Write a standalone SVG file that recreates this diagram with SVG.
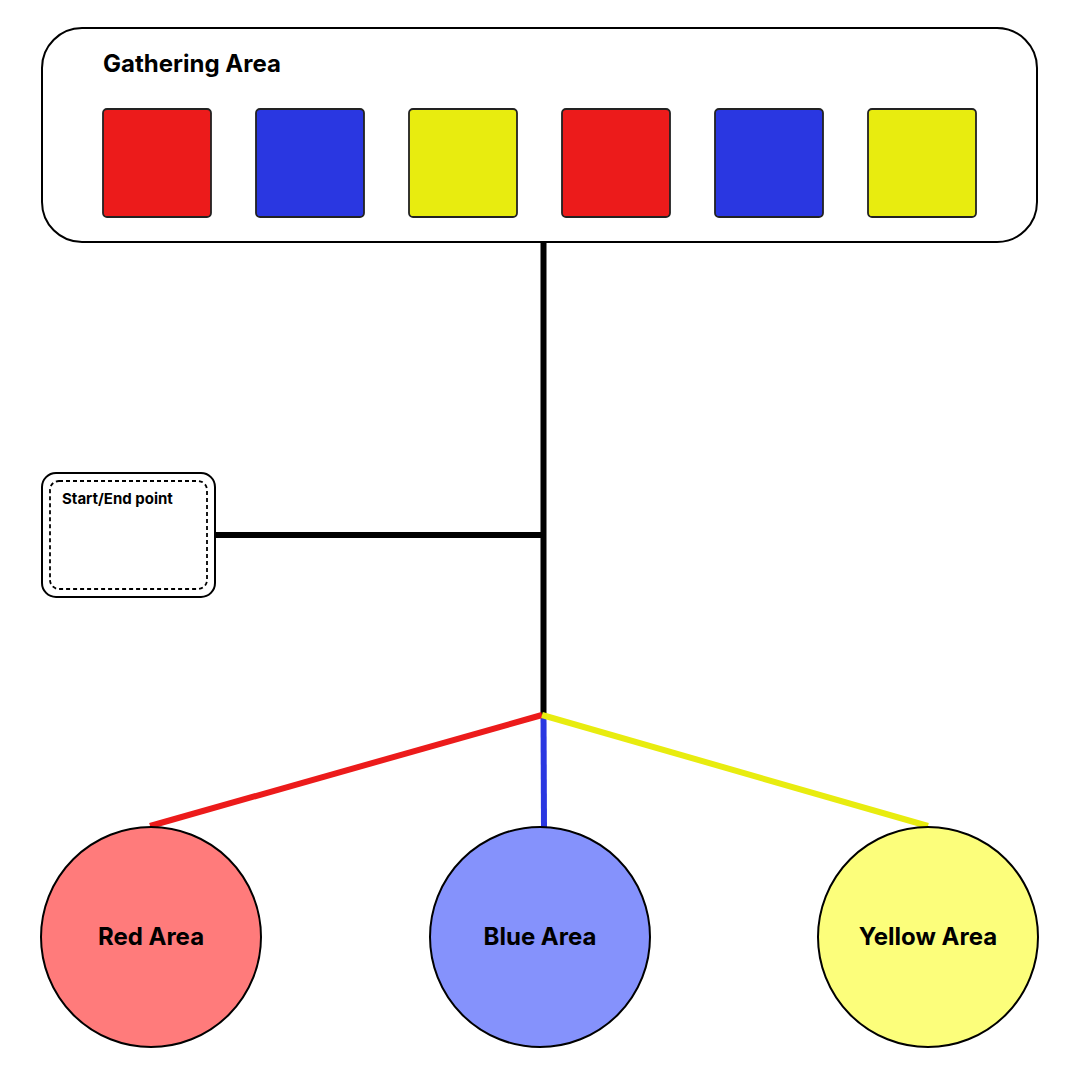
<svg xmlns="http://www.w3.org/2000/svg" width="1080" height="1080" viewBox="0 0 1080 1080">
<style>
text{font-family:Inter,"Liberation Sans",sans-serif;font-weight:700;fill:#000}
.sq{stroke:#222;stroke-width:1.8}
.r{fill:#EC1B1B}.b{fill:#2A37E1}.y{fill:#E8EC0F}
.lbl{font-size:24px;text-anchor:middle}
.area{stroke:#000;stroke-width:2}
.conn line{stroke-width:6;fill:none}
</style>
<rect width="1080" height="1080" fill="#fff"/>
<g id="gathering-area">
<rect x="42" y="28" width="995" height="214" rx="40" fill="#fff" stroke="#000" stroke-width="2"/>
<text x="103" y="72" font-size="24">Gathering Area</text>
<rect class="sq r" x="103" y="109" width="108" height="108" rx="4"/>
<rect class="sq b" x="256" y="109" width="108" height="108" rx="4"/>
<rect class="sq y" x="409" y="109" width="108" height="108" rx="4"/>
<rect class="sq r" x="562" y="109" width="108" height="108" rx="4"/>
<rect class="sq b" x="715" y="109" width="108" height="108" rx="4"/>
<rect class="sq y" x="868" y="109" width="108" height="108" rx="4"/>
</g>
<g id="connectors" class="conn">
<line x1="543.5" y1="241" x2="543.5" y2="715" stroke="#000"/>
<line x1="215" y1="535" x2="543.5" y2="535" stroke="#000"/>
<line x1="543.5" y1="715" x2="544" y2="827" stroke="#2A37E1"/>
<line x1="542" y1="715" x2="150" y2="826" stroke="#EC1B1B"/>
<line x1="542" y1="715" x2="928" y2="826" stroke="#E8EC0F"/>
</g>
<g id="start-end-point">
<rect x="42" y="473" width="173" height="124" rx="14" fill="#fff" stroke="#000" stroke-width="2"/>
<rect x="50" y="481" width="157" height="108" rx="9" fill="none" stroke="#000" stroke-width="1.8" stroke-dasharray="4 3"/>
<text x="62" y="504" font-size="15">Start/End point</text>
</g>
<g id="red-area">
<circle cx="151" cy="937" r="110" fill="#FF7B7B" class="area"/>
<text class="lbl" x="151" y="945">Red Area</text>
</g>
<g id="blue-area">
<circle cx="540" cy="937" r="110" fill="#8592FC" class="area"/>
<text class="lbl" x="540" y="945">Blue Area</text>
</g>
<g id="yellow-area">
<circle cx="928" cy="937" r="110" fill="#FCFE7B" class="area"/>
<text class="lbl" x="928" y="945">Yellow Area</text>
</g>
</svg>
